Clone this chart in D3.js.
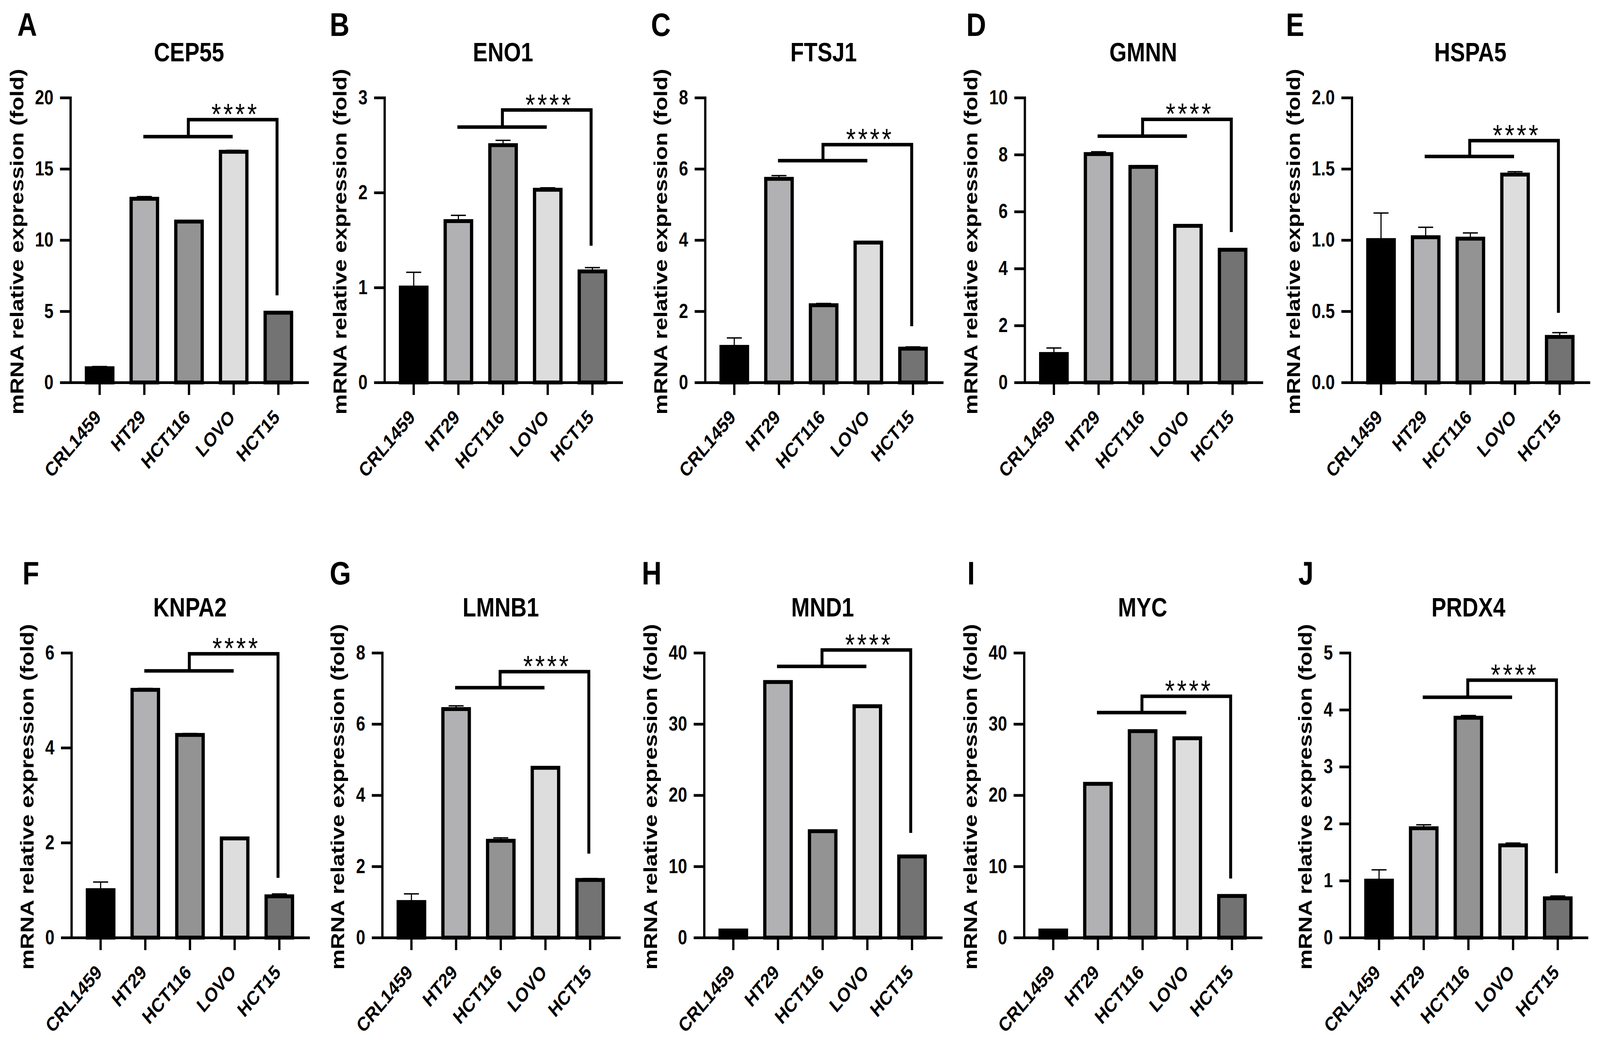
<!DOCTYPE html>
<html>
<head>
<meta charset="utf-8">
<script src="https://cdn.jsdelivr.net/npm/d3@7"></script>
<style>
  html, body { margin: 0; padding: 0; width: 100%; height: 100%; overflow: hidden; background: #fff; }
  #chart svg { display: block; width: 100vw; height: 100vh; }
</style>
</head>
<body>
<div id="chart"></div>
<script>
// cell lines on the x axis, one bar each
const cellLines = ["CRL1459", "HT29", "HCT116", "LOVO", "HCT15"];
const barColors = ["#000000", "#b1b1b3", "#939393", "#dddddd", "#737373"];

// one panel per gene
const genes = ["CEP55", "ENO1", "FTSJ1", "GMNN", "HSPA5", "KNPA2", "LMNB1", "MND1", "MYC", "PRDX4"];
const panelLetters = ["A", "B", "C", "D", "E", "F", "G", "H", "I", "J"];

// mean fold change per cell line
const meanValues = [
  [1.0, 12.9, 11.3, 16.2, 4.9],
  [1.0, 1.70, 2.50, 2.03, 1.17],
  [1.0, 5.72, 2.17, 3.93, 0.95],
  [1.0, 8.02, 7.57, 5.50, 4.66],
  [1.0, 1.02, 1.01, 1.46, 0.32],
  [1.0, 5.22, 4.27, 2.09, 0.87],
  [1.0, 6.42, 2.72, 4.77, 1.62],
  [1.0, 35.9, 14.95, 32.5, 11.4],
  [1.0, 21.6, 29.0, 28.0, 5.85],
  [1.0, 1.92, 3.86, 1.62, 0.69]
];

// upper error (SD)
const errValues = [
  [0.12, 0.15, 0.05, 0.10, 0.05],
  [0.16, 0.06, 0.05, 0.02, 0.04],
  [0.25, 0.09, 0.05, 0.03, 0.05],
  [0.21, 0.08, 0.04, 0.02, 0.03],
  [0.19, 0.07, 0.04, 0.02, 0.03],
  [0.17, 0.03, 0.03, 0.02, 0.05],
  [0.23, 0.09, 0.08, 0.02, 0.04],
  [0.12, 0.15, 0.10, 0.05, 0.10],
  [0.15, 0.10, 0.10, 0.05, 0.08],
  [0.19, 0.06, 0.04, 0.04, 0.04]
];

// y axis
const yMax = [20, 3, 8, 10, 2, 6, 8, 40, 40, 5];
const yTicks = [
  [0, 5, 10, 15, 20],
  [0, 1, 2, 3],
  [0, 2, 4, 6, 8],
  [0, 2, 4, 6, 8, 10],
  [0, 0.5, 1, 1.5, 2],
  [0, 2, 4, 6],
  [0, 2, 4, 6, 8],
  [0, 10, 20, 30, 40],
  [0, 10, 20, 30, 40],
  [0, 1, 2, 3, 4, 5]
];
const yTickFormats = ["d", "d", "d", "d", ".1f", "d", "d", "d", "d", "d"];
const yLabel = "mRNA relative expression (fold)";

// significance bracket heights (data units): group line, top line, drop end
const bracketLow = [17.26, 2.69, 6.23, 8.65, 1.587, 5.62, 7.02, 38.1, 31.6, 4.22];
const bracketHigh = [18.46, 2.87, 6.68, 9.24, 1.698, 5.98, 7.47, 40.4, 33.9, 4.52];
const bracketDrop = [6.12, 1.44, 1.58, 5.28, 0.489, 1.26, 2.36, 14.7, 8.3, 1.13];
const sigLabel = "****";

// layout (figure drawn in a 4906x2680 box, stretched to the window)
const W = 4906, H = 2680;
const plotW = 727, plotH = 729;
const rowZero = [979, 2400];
const axisX = [216, 1179, 2162, 3142, 4145, 219, 1172, 2159, 3140, 4139];
const letterX = [53, 1011, 1996, 2963, 3943, 69, 1011, 1968, 2966, 3981];
const letterY = [92, 1496];
const font = "'Liberation Sans', Arial, Helvetica, sans-serif";

const svg = d3.select("#chart").append("svg")
    .attr("viewBox", `0 0 ${W} ${H}`)
    .attr("preserveAspectRatio", "none")
    .style("background", "#fff");

genes.forEach((gene, i) => {
    const row = Math.floor(i / 5);
    const topY = rowZero[row] - plotH;

    const g = svg.append("g")
        .attr("transform", `translate(${axisX[i]},${topY})`);

    const x = d3.scaleBand()
        .domain(cellLines)
        .range([0, plotW])
        .paddingInner(0.409)
        .paddingOuter(0.358);

    const y = d3.scaleLinear()
        .domain([0, yMax[i]])
        .range([plotH, 0]);

    const cx = c => x(c) + x.bandwidth() / 2;

    const rows = cellLines.map((c, j) => ({
        line: c, value: meanValues[i][j], err: errValues[i][j], color: barColors[j]
    }));

    // bars
    g.selectAll(".bar")
        .data(rows)
        .enter().append("rect")
        .attr("class", "bar")
        .attr("x", d => x(d.line))
        .attr("y", d => y(d.value))
        .attr("width", x.bandwidth())
        .attr("height", d => plotH - y(d.value))
        .attr("fill", d => d.color)
        .attr("stroke", "#000")
        .attr("stroke-width", 10);

    // error bars
    const eb = g.selectAll(".err")
        .data(rows)
        .enter().append("g")
        .attr("class", "err")
        .attr("stroke", "#000")
        .attr("stroke-width", 3.5);
    eb.append("line")
        .attr("x1", d => cx(d.line)).attr("x2", d => cx(d.line))
        .attr("y1", d => y(d.value)).attr("y2", d => y(d.value + d.err));
    eb.append("line")
        .attr("x1", d => cx(d.line) - 23).attr("x2", d => cx(d.line) + 23)
        .attr("y1", d => y(d.value + d.err)).attr("y2", d => y(d.value + d.err));

    // axes
    const yAxis = d3.axisLeft(y)
        .tickValues(yTicks[i])
        .tickFormat(d3.format(yTickFormats[i]))
        .tickSize(32)
        .tickSizeOuter(0)
        .tickPadding(20);

    const yg = g.append("g").call(yAxis);

    const xg = g.append("g")
        .attr("transform", `translate(0,${plotH})`)
        .call(d3.axisBottom(x).tickSize(32).tickSizeOuter(0).tickPadding(0));

    [yg, xg].forEach(ax => {
        ax.attr("font-family", font)
            .attr("font-size", 51)
            .attr("font-weight", "bold");
        ax.select(".domain")
            .attr("stroke-width", 7)
            .attr("stroke-linecap", "square");
        ax.selectAll(".tick line").attr("stroke-width", 7);
        ax.selectAll(".tick text").attr("fill", "#000");
    });

    xg.selectAll(".tick text")
        .attr("y", 0)
        .attr("dy", 0)
        .attr("text-anchor", "end")
        .attr("transform", "translate(7,92) rotate(-45)");

    // y axis title, placed left of the tick labels
    const labelsLeft = yg.node().getBBox().x;
    g.append("text")
        .attr("transform", `translate(${labelsLeft - 36},${plotH / 2 + 4}) rotate(-90)`)
        .attr("text-anchor", "middle")
        .attr("font-family", font)
        .attr("font-size", 58)
        .attr("font-weight", "bold")
        .attr("textLength", 885)
        .attr("lengthAdjust", "spacingAndGlyphs")
        .text(yLabel);

    // significance bracket
    const lowY = y(bracketLow[i]), highY = y(bracketHigh[i]), dropY = y(bracketDrop[i]);
    g.append("path")
        .attr("d", `M${cx("HT29") - 3},${lowY}H${cx("LOVO") - 3}`)
        .attr("fill", "none").attr("stroke", "#000").attr("stroke-width", 9);
    g.append("path")
        .attr("d", `M${cx("HCT116") - 2},${lowY}V${highY}H${cx("HCT15") - 4}V${dropY}`)
        .attr("fill", "none").attr("stroke", "#000").attr("stroke-width", 9)
        .attr("stroke-linejoin", "miter");
    g.append("text")
        .attr("x", cx("LOVO") + 5)
        .attr("y", highY + 12)
        .attr("text-anchor", "middle")
        .attr("font-family", font)
        .attr("font-size", 76)
        .attr("letter-spacing", 7)
        .text(sigLabel);

    // gene title
    g.append("text")
        .attr("x", plotW / 2)
        .attr("y", plotH - 822)
        .attr("text-anchor", "middle")
        .attr("font-family", font)
        .attr("font-size", 68)
        .attr("font-weight", "bold")
        .text(gene);

    // panel letter
    svg.append("text")
        .attr("x", letterX[i])
        .attr("y", letterY[row])
        .attr("font-family", font)
        .attr("font-size", 84)
        .attr("font-weight", "bold")
        .text(panelLetters[i]);
});
</script>
</body>
</html>
